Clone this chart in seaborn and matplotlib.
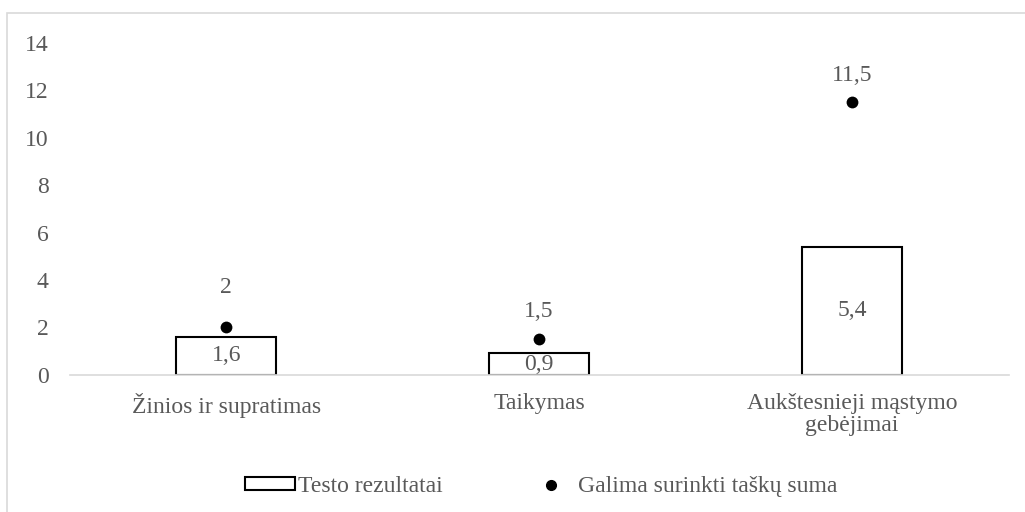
import numpy as np
import pandas as pd
import matplotlib.pyplot as plt
import seaborn as sns
from matplotlib.patches import Patch, Rectangle
from matplotlib.lines import Line2D

categories = ["Žinios ir supratimas", "Taikymas", "Aukštesnieji mąstymo\ngebėjimai"]
test_results = [1.6, 0.9, 5.4]
max_points = [2, 1.5, 11.5]
bar_labels = ["1,6", "0,9", "5,4"]
point_labels = ["2", "1,5", "11,5"]

df = pd.DataFrame({"kat": categories, "rez": test_results, "max": max_points})

sns.set_theme(style="white")
plt.rcParams['font.family'] = ['Liberation Serif', 'DejaVu Serif']
grey = "#595959"
fs = 17

fig = plt.figure(figsize=(10.25, 5.12), dpi=100)
ax = fig.add_axes([0.068, 0.268, 0.916, 0.648])

sns.barplot(data=df, x="kat", y="rez", ax=ax, width=0.32, color="white",
            edgecolor="black", linewidth=1.5, saturation=1)
sns.stripplot(data=df, x="kat", y="max", ax=ax, jitter=False, color="black",
              size=8.5, linewidth=0)

ax.bar_label(ax.containers[0], labels=bar_labels, label_type="center",
             fontsize=fs, color=grey)

# labels above the points
label_dy = [40, 28, 27]
for i, (v, t) in enumerate(zip(max_points, point_labels)):
    ax.annotate(t, (i, v), xytext=(0, label_dy[i]), textcoords="offset pixels",
                ha="center", va="center", fontsize=fs, color=grey)

ax.set_ylim(0, 14)
ax.set_yticks(range(0, 15, 2))
ax.set_xlim(-0.5, 2.5)
ax.set_xlabel("")
ax.set_ylabel("")
ax.tick_params(axis="both", length=0, labelsize=fs, labelcolor=grey)
ax.tick_params(axis="y", pad=15)
ax.tick_params(axis="x", pad=13)
for t in ax.get_xticklabels():
    t.set_linespacing(1.1)
for s in ["top", "right", "left"]:
    ax.spines[s].set_visible(False)
ax.spines["bottom"].set_color("#d9d9d9")
ax.spines["bottom"].set_linewidth(1.2)

handles = [Patch(facecolor="white", edgecolor="black", linewidth=1.5),
           Line2D([], [], marker="o", linestyle="none", color="black", markersize=7)]
fig.legend(handles, ["Testo rezultatai", "Galima surinkti taškų suma"],
           loc="center", bbox_to_anchor=(0.528, 0.05), ncol=2, frameon=False,
           fontsize=fs, labelcolor=grey, handlelength=2.15, handleheight=0.45,
           handletextpad=0.1, columnspacing=3.5)

# chart border (right and bottom edges are cut off in the original)
fig.patches.append(Rectangle((0.0065, -0.1), 1.1, 1.075, transform=fig.transFigure,
                             fill=False, edgecolor="#d9d9d9", linewidth=1.2))

fig.savefig("out.png", dpi=100, facecolor="white")
